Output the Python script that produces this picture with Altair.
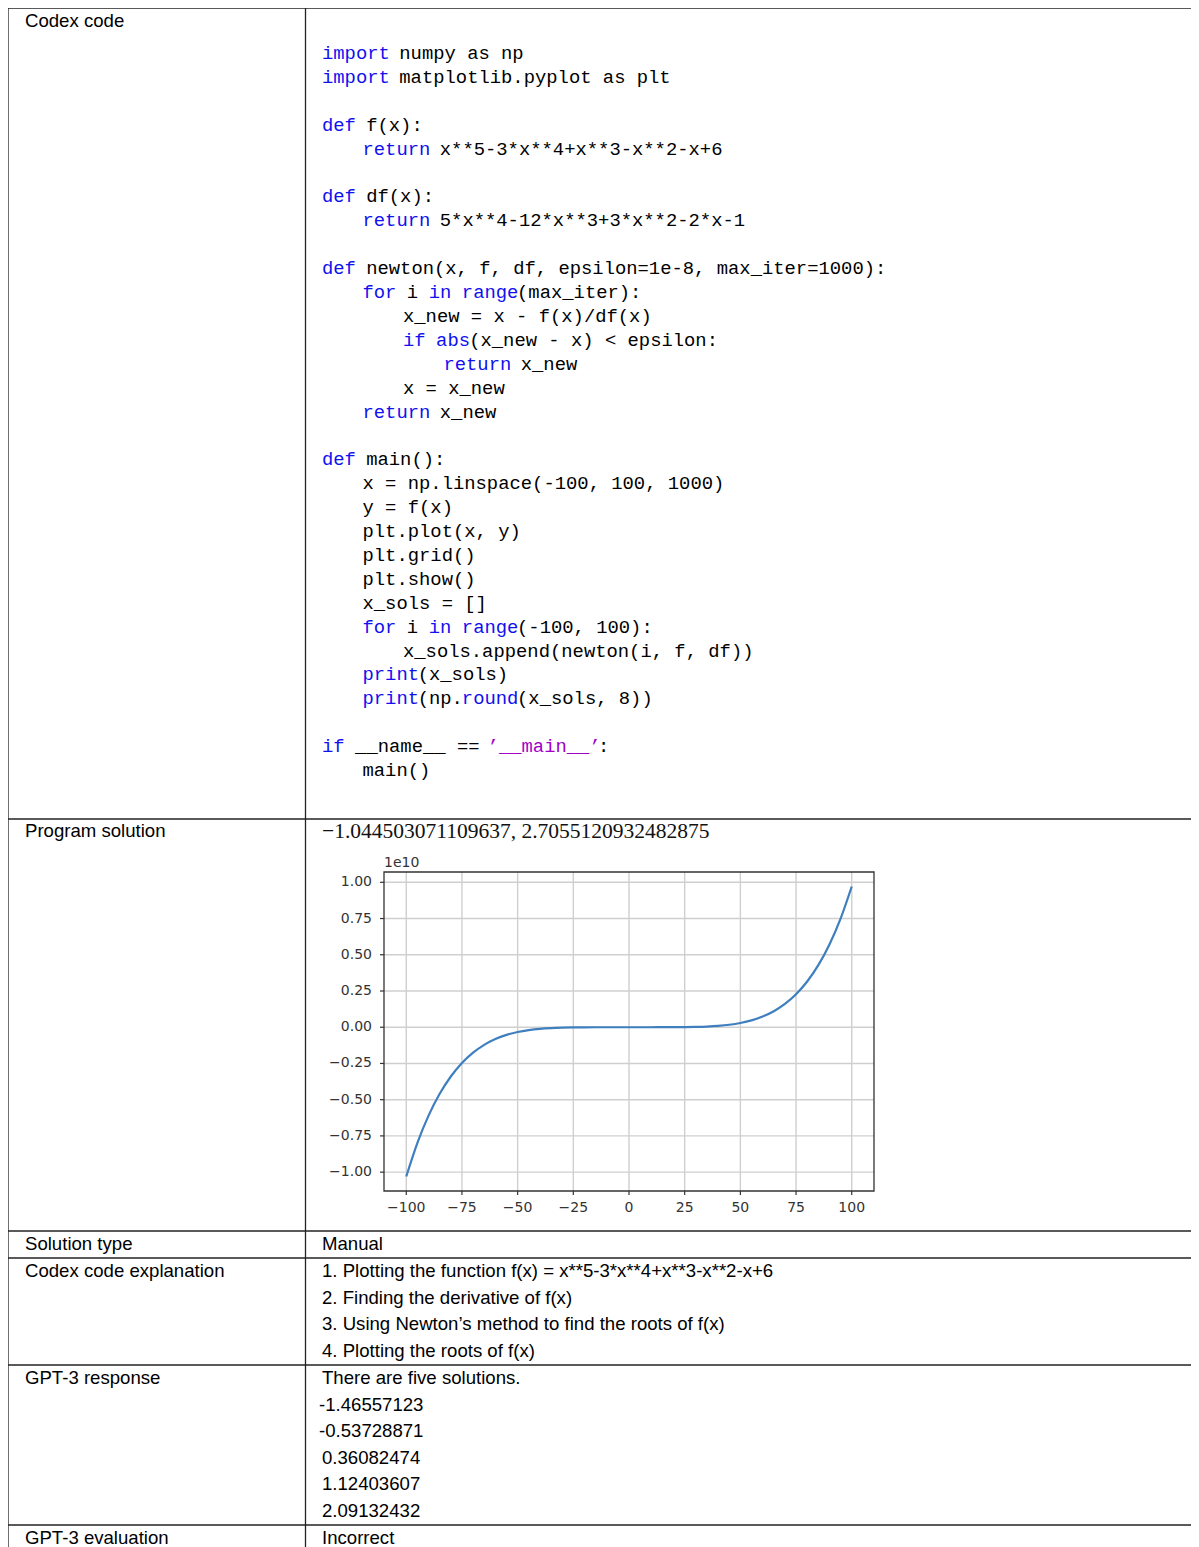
import re
import altair as alt
import pandas as pd

# ---------------- data ----------------
row_labels = ["Codex code", "Program solution", "Solution type",
              "Codex code explanation", "GPT-3 response", "GPT-3 evaluation"]

code_lines = [
    "import numpy as np",
    "import matplotlib.pyplot as plt",
    "",
    "def f(x):",
    "    return x**5-3*x**4+x**3-x**2-x+6",
    "",
    "def df(x):",
    "    return 5*x**4-12*x**3+3*x**2-2*x-1",
    "",
    "def newton(x, f, df, epsilon=1e-8, max_iter=1000):",
    "    for i in range(max_iter):",
    "        x_new = x - f(x)/df(x)",
    "        if abs(x_new - x) < epsilon:",
    "            return x_new",
    "        x = x_new",
    "    return x_new",
    "",
    "def main():",
    "    x = np.linspace(-100, 100, 1000)",
    "    y = f(x)",
    "    plt.plot(x, y)",
    "    plt.grid()",
    "    plt.show()",
    "    x_sols = []",
    "    for i in range(-100, 100):",
    "        x_sols.append(newton(i, f, df))",
    "    print(x_sols)",
    "    print(np.round(x_sols, 8))",
    "",
    "if __name__ == \u2019__main__\u2019:",
    "    main()",
]
code_keywords = ["import", "def", "return", "for", "in", "range", "if", "abs", "print", "round"]

solution_text = "\u22121.044503071109637, 2.7055120932482875"
solution_type = ["Manual"]
explanation_lines = [
    "1. Plotting the function f(x) = x**5-3*x**4+x**3-x**2-x+6",
    "2. Finding the derivative of f(x)",
    "3. Using Newton\u2019s method to find the roots of f(x)",
    "4. Plotting the roots of f(x)",
]
gpt3_lines = ["There are five solutions.", "-1.46557123", "-0.53728871",
              "0.36082474", "1.12403607", "2.09132432"]
evaluation = ["Incorrect"]

# curve (y in units of 1e10)
curve_x = [-100, -95, -90, -85, -80, -75, -70, -65, -60, -55, -50, -45, -40, -35,
           -30, -25, -20, -15, -10, -5, 0, 5, 10, 15, 20, 25, 30, 35, 40, 45, 50,
           55, 60, 65, 70, 75, 80, 85, 90, 95, 100]
curve_y = [-1.0301, -0.7983, -0.6102, -0.4594, -0.3400, -0.2468, -0.1753, -0.1214,
           -0.0816, -0.0531, -0.0331, -0.0197, -0.0110, -0.0057, -0.0027, -0.0011,
           -0.0004, -0.0001, 0.0, 0.0, 0.0, 0.0, 0.0, 0.0001, 0.0003, 0.0009, 0.0022,
           0.0048, 0.0095, 0.0172, 0.0294, 0.0476, 0.0739, 0.1107, 0.1609, 0.2278,
           0.3154, 0.4281, 0.5708, 0.7494, 0.9710]
x_tick_values = [-100, -75, -50, -25, 0, 25, 50, 75, 100]
x_tick_labels = ["\u2212100", "\u221275", "\u221250", "\u221225", "0", "25", "50", "75", "100"]
y_tick_values = [-1.0, -0.75, -0.5, -0.25, 0.0, 0.25, 0.5, 0.75, 1.0]
y_tick_labels = ["\u22121.00", "\u22120.75", "\u22120.50", "\u22120.25", "0.00",
                 "0.25", "0.50", "0.75", "1.00"]
offset_label = ["1e10"]

# ---------------- layout ----------------
W, H = 1183, 1539
OX, OY = 6, 6
COL_X = 303.5
H_LINES = [6, 817, 1229, 1256, 1363, 1523]
LABEL_X = 23
VALUE_X = 320
CODE_TOP, CODE_STEP = 51, 23.9
CHAR_W, SPACE_INDENT = 11.04, 10.12
LINE_STEP = 26.6

BLACK, KW, STR = "#000000", "#1010f0", "#a000c8"
SANS = "Liberation Sans"
MONO = "Liberation Mono"


def sx():
    return alt.Scale(domain=[OX, OX + W], range=[0, W], nice=False, zero=False)


def sy():
    return alt.Scale(domain=[OY, OY + H], range=[0, H], nice=False, zero=False)


PX_DOM = [-110, 110]
PY_DOM = [-1.1301, 1.0711]


def px():
    return alt.Scale(domain=PX_DOM, range=[382 - OX, 872 - OX], nice=False, zero=False)


def py():
    return alt.Scale(domain=PY_DOM, range=[1189 - OY, 870 - OY], nice=False, zero=False)


layers = []

# table lines
hl = pd.DataFrame({"y": H_LINES, "x0": OX, "x1": OX + W})
layers.append(alt.Chart(hl).mark_rule(color="#222", strokeWidth=1.3).encode(
    x=alt.X("x0:Q", scale=sx(), axis=None), x2="x1:Q",
    y=alt.Y("y:Q", scale=sy(), axis=None)))
vl = pd.DataFrame({"x": [OX, COL_X], "y0": OY, "y1": OY + H})
layers.append(alt.Chart(vl).mark_rule(color="#222", strokeWidth=1.3).encode(
    x=alt.X("x:Q", scale=sx(), axis=None),
    y=alt.Y("y0:Q", scale=sy(), axis=None), y2="y1:Q"))

# sans text (labels + right column)
label_y = [19, 829, 1242, 1269, 1376, 1536]
sans_rows = [dict(px=LABEL_X, py=y, text=t) for t, y in zip(row_labels, label_y)]
sans_rows.append(dict(px=VALUE_X, py=1242, text=solution_type[0]))
for i, t in enumerate(explanation_lines):
    sans_rows.append(dict(px=VALUE_X, py=1269 + i * LINE_STEP, text=t))
for i, t in enumerate(gpt3_lines):
    sans_rows.append(dict(px=VALUE_X - (3 if t.startswith("-") else 0),
                          py=1376 + i * LINE_STEP, text=t))
sans_rows.append(dict(px=VALUE_X, py=1536, text=evaluation[0]))
layers.append(alt.Chart(pd.DataFrame(sans_rows)).mark_text(
    align="left", baseline="middle", font=SANS, fontSize=18.6, color="#000").encode(
    x=alt.X("px:Q", scale=sx(), axis=None),
    y=alt.Y("py:Q", scale=sy(), axis=None), text="text:N"))

# code text
code_rows = []
for i, line in enumerate(code_lines):
    body = line.lstrip(" ")
    indent = len(line) - len(body)
    segs = []
    pos = 0
    for tok in re.findall(r"[A-Za-z_]+|\u2019[^\u2019]*\u2019|.", body):
        c = KW if tok in code_keywords else (STR if tok.startswith("\u2019") else BLACK)
        if segs and segs[-1][2] == c:
            segs[-1][0] += tok
        else:
            segs.append([tok, pos, c])
        pos += len(tok)
    for txt, off, c in segs:
        lead = len(txt) - len(txt.lstrip(" "))
        if not txt.strip():
            continue
        code_rows.append(dict(px=VALUE_X + indent * SPACE_INDENT + (off + lead) * CHAR_W,
                              py=CODE_TOP + i * CODE_STEP, text=txt.strip(" "), color=c))
layers.append(alt.Chart(pd.DataFrame(code_rows)).mark_text(
    align="left", baseline="middle", font=MONO, fontSize=18.85).encode(
    x=alt.X("px:Q", scale=sx(), axis=None),
    y=alt.Y("py:Q", scale=sy(), axis=None), text="text:N",
    color=alt.Color("color:N", scale=None)))

# solution title (serif)
layers.append(alt.Chart(pd.DataFrame([dict(px=VALUE_X, py=830, text=solution_text)])).mark_text(
    align="left", baseline="middle", font="Liberation Serif", fontSize=21.5, color="#111").encode(
    x=alt.X("px:Q", scale=sx(), axis=None),
    y=alt.Y("py:Q", scale=sy(), axis=None), text="text:N"))

# ---------------- embedded plot ----------------
GRID = "#cfcfcf"
AX = "#333333"
PFONT = "DejaVu Sans"
PSIZE = 14

gx = pd.DataFrame({"t": x_tick_values, "y0": PY_DOM[0], "y1": PY_DOM[1]})
layers.append(alt.Chart(gx).mark_rule(color=GRID, strokeWidth=1.4).encode(
    x=alt.X("t:Q", scale=px(), axis=None),
    y=alt.Y("y0:Q", scale=py(), axis=None), y2="y1:Q"))
gy = pd.DataFrame({"t": y_tick_values, "x0": PX_DOM[0], "x1": PX_DOM[1]})
layers.append(alt.Chart(gy).mark_rule(color=GRID, strokeWidth=1.4).encode(
    y=alt.Y("t:Q", scale=py(), axis=None),
    x=alt.X("x0:Q", scale=px(), axis=None), x2="x1:Q"))

curve = pd.DataFrame({"x": curve_x, "y": curve_y})
layers.append(alt.Chart(curve).mark_line(color="#3f7fbf", strokeWidth=2.2,
                                         interpolate="monotone").encode(
    x=alt.X("x:Q", scale=px(), axis=None),
    y=alt.Y("y:Q", scale=py(), axis=None)))

frame = pd.DataFrame([dict(x0=PX_DOM[0], x1=PX_DOM[1], y0=PY_DOM[0], y1=PY_DOM[1])])
layers.append(alt.Chart(frame).mark_rect(fillOpacity=0, stroke=AX, strokeWidth=1.3).encode(
    x=alt.X("x0:Q", scale=px(), axis=None), x2="x1:Q",
    y=alt.Y("y0:Q", scale=py(), axis=None), y2="y1:Q"))

tx = pd.DataFrame({"t": x_tick_values, "lab": x_tick_labels, "yb": PY_DOM[0]})
layers.append(alt.Chart(tx).mark_rule(color=AX, strokeWidth=1.2, y2Offset=4).encode(
    x=alt.X("t:Q", scale=px(), axis=None),
    y=alt.Y("yb:Q", scale=py(), axis=None), y2="yb:Q"))
layers.append(alt.Chart(tx).mark_text(align="center", baseline="middle", dy=17,
                                      font=PFONT, fontSize=PSIZE, color=AX).encode(
    x=alt.X("t:Q", scale=px(), axis=None),
    y=alt.Y("yb:Q", scale=py(), axis=None), text="lab:N"))

ty = pd.DataFrame({"t": y_tick_values, "lab": y_tick_labels, "xl": PX_DOM[0]})
layers.append(alt.Chart(ty).mark_rule(color=AX, strokeWidth=1.2, x2Offset=-4).encode(
    y=alt.Y("t:Q", scale=py(), axis=None),
    x=alt.X("xl:Q", scale=px(), axis=None), x2="xl:Q"))
layers.append(alt.Chart(ty).mark_text(align="right", baseline="middle", dx=-12,
                                      font=PFONT, fontSize=PSIZE, color=AX).encode(
    y=alt.Y("t:Q", scale=py(), axis=None),
    x=alt.X("xl:Q", scale=px(), axis=None), text="lab:N"))

off = pd.DataFrame([dict(x=PX_DOM[0], y=PY_DOM[1], lab=offset_label[0])])
layers.append(alt.Chart(off).mark_text(align="left", baseline="middle", dx=0, dy=-9,
                                       font=PFONT, fontSize=PSIZE, color=AX).encode(
    x=alt.X("x:Q", scale=px(), axis=None),
    y=alt.Y("y:Q", scale=py(), axis=None), text="lab:N"))

chart = alt.layer(*layers).resolve_scale(x="independent", y="independent").properties(
    width=W, height=H, padding=0, autosize=alt.AutoSizeParams(type="none")
).configure_view(stroke=None)

chart.save("out.html", embed_options={"renderer": "svg", "actions": False})
